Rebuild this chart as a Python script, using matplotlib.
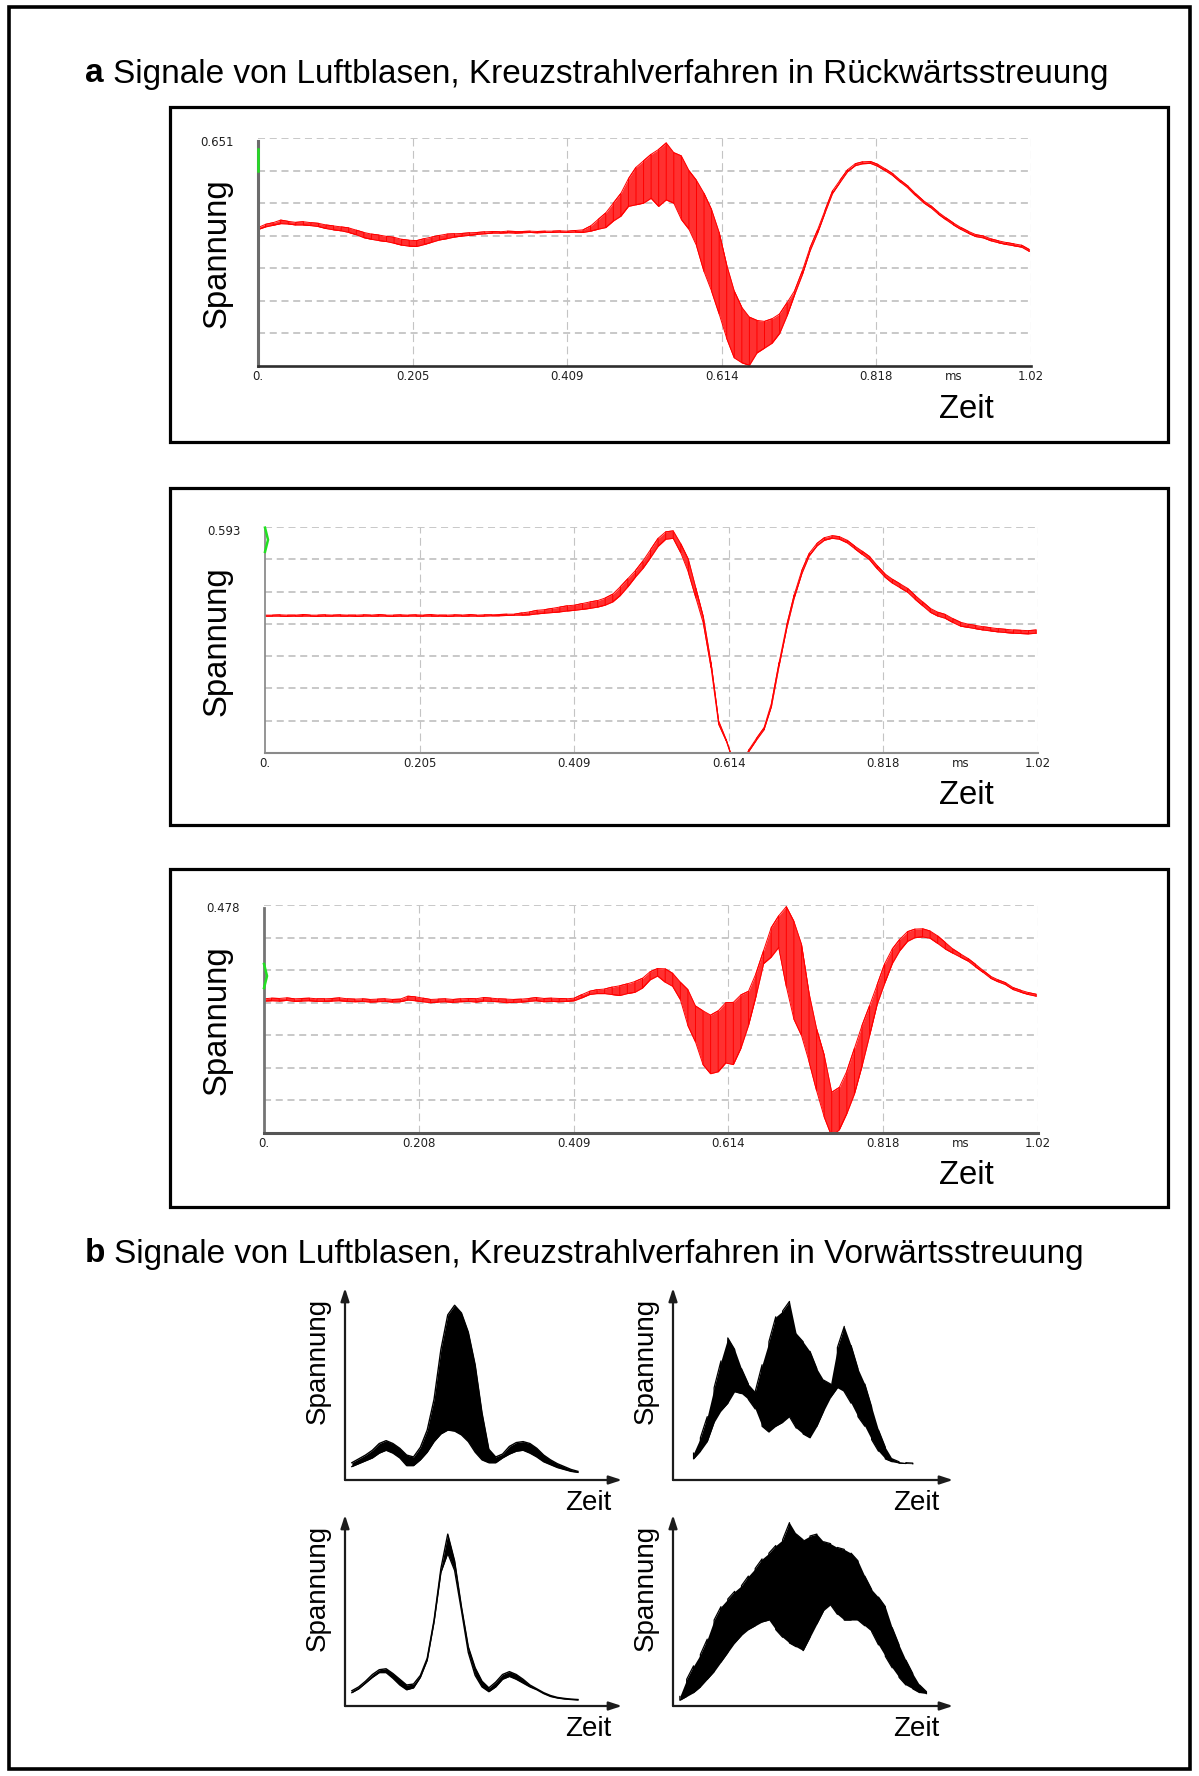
import numpy as np
import matplotlib
matplotlib.use("Agg")
import matplotlib.pyplot as plt
from matplotlib.patches import Rectangle

W, H, DPI = 1199, 1776, 100
plt.rcParams['font.family'] = ['Liberation Sans', 'DejaVu Sans']
nan = np.nan

# ---------------- part a: oscilloscope traces (screen divisions, 0..7) ----------------
t_ms = np.round(np.arange(103) * 0.01, 2)          # sample times 0.00 .. 1.02 ms
tick_ms = [0.0, 0.2045, 0.409, 0.6135, 0.818, 1.0225]
xlabels_1 = ["0.", "0.205", "0.409", "0.614", "0.818", "1.02"]
xlabels_2 = ["0.", "0.205", "0.409", "0.614", "0.818", "1.02"]
xlabels_3 = ["0.", "0.208", "0.409", "0.614", "0.818", "1.02"]
ytop_labels = ["0.651", "0.593", "0.478"]
unit_label = "ms"

# upper / lower extent of the trace at each sample time
p1_hi = [4.25, 4.35, 4.40, 4.48, 4.44, 4.41, 4.43, 4.40, 4.38, 4.33,
         4.30, 4.27, 4.24, 4.17, 4.10, 4.05, 4.02, 3.98, 3.95, 3.89,
         3.86, 3.85, 3.91, 3.96, 4.01, 4.05, 4.06, 4.07, 4.09, 4.10,
         4.12, 4.13, 4.12, 4.14, 4.13, 4.13, 4.14, 4.13, 4.14, 4.14,
         4.15, 4.14, 4.16, 4.18, 4.30, 4.50, 4.70, 5.00, 5.30, 5.75,
         6.10, 6.30, 6.50, 6.65, 6.85, 6.55, 6.45, 6.00, 5.70, 5.30,
         4.80, 4.10, 3.10, 2.30, 1.80, 1.50, 1.40, 1.37, 1.45, 1.60,
         1.95, 2.32, 2.92, 3.62, 4.17, 4.78, 5.38, 5.71, 6.03, 6.21,
         6.27, 6.28, 6.19, 6.05, 5.90, 5.70, 5.52, 5.29, 5.08, 4.92,
         4.72, 4.55, 4.39, 4.25, 4.13, 4.03, 3.99, 3.90, 3.84, 3.79,
         3.75, 3.71, 3.58]
p1_lo = [4.19, 4.27, 4.32, 4.37, 4.36, 4.33, 4.33, 4.31, 4.28, 4.22,
         4.18, 4.15, 4.10, 4.03, 3.94, 3.89, 3.85, 3.82, 3.77, 3.71,
         3.68, 3.67, 3.73, 3.80, 3.87, 3.91, 3.96, 3.99, 4.01, 4.04,
         4.06, 4.08, 4.08, 4.09, 4.08, 4.09, 4.10, 4.09, 4.10, 4.10,
         4.11, 4.10, 4.11, 4.10, 4.14, 4.20, 4.25, 4.45, 4.60, 4.90,
         4.95, 5.00, 5.15, 4.90, 5.10, 5.00, 4.50, 4.20, 3.70, 2.90,
         2.30, 1.60, 0.85, 0.25, 0.10, 0.02, 0.40, 0.55, 0.70, 1.00,
         1.55, 2.20, 2.80, 3.52, 4.07, 4.70, 5.30, 5.64, 5.97, 6.15,
         6.21, 6.22, 6.13, 5.99, 5.84, 5.64, 5.46, 5.23, 5.02, 4.86,
         4.66, 4.49, 4.33, 4.19, 4.07, 3.97, 3.93, 3.84, 3.78, 3.73,
         3.69, 3.65, 3.52]

p2_hi = [4.27, 4.27, 4.28, 4.27, 4.27, 4.29, 4.27, 4.27, 4.28, 4.27,
         4.28, 4.27, 4.27, 4.28, 4.27, 4.29, 4.27, 4.27, 4.28, 4.27,
         4.28, 4.27, 4.29, 4.27, 4.27, 4.28, 4.27, 4.29, 4.27, 4.28,
         4.28, 4.29, 4.30, 4.30, 4.34, 4.37, 4.42, 4.44, 4.48, 4.52,
         4.56, 4.58, 4.63, 4.68, 4.72, 4.80, 4.92, 5.15, 5.40, 5.65,
         5.95, 6.30, 6.65, 6.85, 6.88, 6.48, 6.00, 5.10, 4.20, 2.80,
         1.00, 0.42, -0.30, -0.50, 0.10, 0.45, 0.78, 1.55, 2.80, 3.95,
         4.90, 5.65, 6.19, 6.49, 6.67, 6.73, 6.70, 6.59, 6.41, 6.25,
         6.08, 5.80, 5.55, 5.38, 5.24, 5.10, 4.88, 4.68, 4.48, 4.36,
         4.29, 4.16, 4.05, 3.99, 3.95, 3.91, 3.88, 3.85, 3.83, 3.81,
         3.80, 3.79, 3.81]
p2_lo = [4.24, 4.24, 4.24, 4.23, 4.24, 4.24, 4.24, 4.23, 4.24, 4.24,
         4.24, 4.24, 4.23, 4.24, 4.24, 4.24, 4.24, 4.23, 4.24, 4.24,
         4.24, 4.24, 4.24, 4.24, 4.23, 4.24, 4.24, 4.24, 4.24, 4.24,
         4.25, 4.25, 4.26, 4.27, 4.27, 4.28, 4.31, 4.33, 4.35, 4.37,
         4.40, 4.42, 4.45, 4.48, 4.52, 4.58, 4.68, 4.88, 5.15, 5.45,
         5.72, 6.05, 6.40, 6.62, 6.65, 6.20, 5.60, 4.80, 4.00, 2.65,
         0.90, 0.38, -0.30, -0.50, 0.05, 0.40, 0.72, 1.45, 2.70, 3.85,
         4.80, 5.55, 6.11, 6.41, 6.59, 6.65, 6.62, 6.51, 6.33, 6.15,
         5.98, 5.70, 5.45, 5.26, 5.12, 4.98, 4.76, 4.56, 4.36, 4.24,
         4.17, 4.04, 3.93, 3.89, 3.85, 3.81, 3.78, 3.75, 3.73, 3.71,
         3.70, 3.69, 3.71]

p3_hi = [4.12, 4.14, 4.13, 4.15, 4.12, 4.13, 4.14, 4.12, 4.12, 4.13,
         4.15, 4.12, 4.11, 4.12, 4.10, 4.11, 4.12, 4.10, 4.11, 4.20,
         4.18, 4.14, 4.10, 4.11, 4.12, 4.10, 4.12, 4.13, 4.12, 4.16,
         4.14, 4.12, 4.11, 4.10, 4.11, 4.13, 4.16, 4.13, 4.14, 4.13,
         4.12, 4.14, 4.25, 4.35, 4.40, 4.42, 4.48, 4.52, 4.58, 4.65,
         4.75, 4.95, 5.05, 5.04, 4.90, 4.63, 4.40, 3.90, 3.75, 3.62,
         3.75, 4.00, 4.01, 4.24, 4.35, 4.90, 5.60, 6.30, 6.67, 6.95,
         6.50, 5.80, 4.30, 3.20, 2.40, 1.25, 1.40, 1.90, 2.60, 3.30,
         3.91, 4.55, 5.20, 5.65, 5.95, 6.18, 6.26, 6.27, 6.20, 6.05,
         5.85, 5.65, 5.50, 5.36, 5.18, 4.99, 4.81, 4.70, 4.61, 4.46,
         4.38, 4.31, 4.26]
p3_lo = [4.05, 4.06, 4.05, 4.07, 4.04, 4.05, 4.06, 4.04, 4.04, 4.05,
         4.06, 4.04, 4.03, 4.04, 4.02, 4.03, 4.04, 4.02, 4.03, 4.08,
         4.06, 4.03, 4.00, 4.02, 4.03, 4.01, 4.03, 4.04, 4.02, 4.05,
         4.04, 4.03, 4.00, 4.01, 4.02, 4.04, 4.06, 4.03, 4.04, 4.03,
         4.04, 4.06, 4.15, 4.25, 4.28, 4.28, 4.25, 4.22, 4.28, 4.32,
         4.45, 4.70, 4.82, 4.63, 4.50, 4.10, 3.30, 2.80, 2.10, 1.82,
         1.88, 2.15, 2.10, 2.60, 3.30, 4.20, 5.20, 5.40, 5.70, 4.50,
         3.50, 3.00, 2.20, 1.30, 0.50, -0.10, 0.10, 0.60, 1.20, 2.05,
         2.99, 3.95, 4.60, 5.20, 5.60, 5.88, 6.00, 6.02, 5.98, 5.82,
         5.65, 5.52, 5.40, 5.28, 5.10, 4.93, 4.75, 4.64, 4.55, 4.40,
         4.32, 4.25, 4.20]

# trigger marker (green) extent on the y axis, in divisions
marker_lo = [6.00, 6.23, 4.45]
marker_hi = [6.67, 6.98, 5.19]

# ---------------- part b: forward-scatter sketches (normalised units) ----------------
b_t = np.round(0.025 + np.arange(37) * 0.025, 3)
tl_hi = [0.09, 0.11, 0.13, 0.155, 0.19, 0.205, 0.19, 0.165, 0.13, 0.12, 0.17, 0.26,
         0.42, 0.68, 0.86, 0.91, 0.87, 0.77, 0.60, 0.35, 0.16, 0.12, 0.135, 0.175,
         0.195, 0.20, 0.19, 0.165, 0.13, 0.105, 0.085, 0.07, 0.055, 0.045, nan, nan, nan]
tl_lo = [0.07, 0.085, 0.10, 0.115, 0.14, 0.155, 0.14, 0.115, 0.075, 0.075, 0.105, 0.145,
         0.20, 0.24, 0.26, 0.255, 0.235, 0.20, 0.145, 0.105, 0.09, 0.09, 0.115, 0.135,
         0.15, 0.155, 0.14, 0.12, 0.095, 0.08, 0.065, 0.055, 0.045, 0.04, nan, nan, nan]
bl_hi = [0.08, 0.10, 0.13, 0.165, 0.19, 0.195, 0.17, 0.14, 0.11, 0.115, 0.16, 0.25,
         0.45, 0.72, 0.90, 0.76, 0.52, 0.31, 0.20, 0.13, 0.095, 0.125, 0.165, 0.18,
         0.165, 0.14, 0.11, 0.09, 0.07, 0.055, 0.045, 0.04, 0.036, 0.034, nan, nan, nan]
bl_lo = [0.07, 0.09, 0.12, 0.15, 0.175, 0.175, 0.145, 0.11, 0.085, 0.095, 0.15, 0.24,
         0.44, 0.70, 0.80, 0.71, 0.50, 0.28, 0.16, 0.10, 0.075, 0.10, 0.14, 0.155,
         0.14, 0.12, 0.10, 0.085, 0.065, 0.05, 0.042, 0.037, 0.034, 0.032, nan, nan, nan]
tr_hi = [nan, nan, 0.14, 0.22, 0.33, 0.48, 0.62, 0.74, 0.68, 0.58, 0.50, 0.46,
         0.60, 0.72, 0.85, 0.88, 0.93, 0.76, 0.72, 0.67, 0.58, 0.52, 0.50, 0.69,
         0.80, 0.70, 0.58, 0.50, 0.38, 0.26, 0.17, 0.11, 0.095, 0.09, 0.088, nan, nan]
tr_lo = [nan, nan, 0.11, 0.15, 0.20, 0.30, 0.36, 0.40, 0.46, 0.45, 0.42, 0.37,
         0.28, 0.25, 0.28, 0.30, 0.33, 0.27, 0.24, 0.22, 0.28, 0.36, 0.43, 0.48,
         0.46, 0.40, 0.33, 0.28, 0.21, 0.15, 0.11, 0.095, 0.088, 0.086, 0.085, nan, nan]
br_hi = [0.05, 0.14, 0.21, 0.27, 0.35, 0.45, 0.52, 0.56, 0.60, 0.63, 0.68, 0.72,
         0.77, 0.80, 0.84, 0.87, 0.96, 0.90, 0.87, 0.89, 0.90, 0.86, 0.85, 0.83,
         0.82, 0.80, 0.76, 0.68, 0.61, 0.57, 0.52, 0.41, 0.32, 0.24, 0.17, 0.11, 0.075]
br_lo = [0.03, 0.05, 0.07, 0.10, 0.14, 0.18, 0.23, 0.28, 0.33, 0.37, 0.40, 0.42,
         0.44, 0.45, 0.40, 0.36, 0.33, 0.31, 0.29, 0.36, 0.43, 0.50, 0.53, 0.48,
         0.45, 0.45, 0.45, 0.42, 0.39, 0.32, 0.26, 0.20, 0.15, 0.11, 0.09, 0.07, 0.065]

title_a = "Signale von Luftblasen, Kreuzstrahlverfahren in Rückwärtsstreuung"
title_b = "Signale von Luftblasen, Kreuzstrahlverfahren in Vorwärtsstreuung"
ylab, xlab = "Spannung", "Zeit"

# ---------------- drawing ----------------
fig = plt.figure(figsize=(W / DPI, H / DPI), dpi=DPI)
fig.patch.set_facecolor("white")


def fx(x):
    return x / W


def fy(y):
    return 1 - y / H


def add_ax(x0, y0, x1, y1):
    return fig.add_axes([fx(x0), fy(y1), (x1 - x0) / W, (y1 - y0) / H])


def frame(x0, y0, x1, y1, lw=2.3):
    fig.add_artist(Rectangle((fx(x0), fy(y1)), (x1 - x0) / W, (y1 - y0) / H,
                             transform=fig.transFigure, fill=False,
                             edgecolor="black", linewidth=lw))


def band_path(t, hi, lo):
    """trace that jumps between upper and lower extent at each sample time"""
    t = np.repeat(np.asarray(t, float), 2)
    hi = np.asarray(hi, float)
    lo = np.asarray(lo, float)
    even = np.arange(len(hi)) % 2 == 0
    y = np.empty(2 * len(hi))
    y[0::2] = np.where(even, hi, lo)
    y[1::2] = np.where(even, lo, hi)
    return t, y


def title(y, letter, text):
    r = fig.canvas.get_renderer()
    t1 = fig.text(fx(85), fy(y), letter, fontsize=24, fontweight="bold", va="center")
    bb = t1.get_window_extent(r)
    fig.text((bb.x1 + 9) / W, fy(y), text, fontsize=24, va="center")


frame(9, 7, 1190, 1769, lw=2.6)
title(74, "a", title_a)
title(1254, "b", title_b)

scopes = [
    dict(box=(170, 107, 1168, 442), ax=(258, 138, 1031, 366), hi=p1_hi, lo=p1_lo,
         xl=xlabels_1, lc="#6c6c6c", lw_l=2.2, bc="#2e2e2e", lw_b=1.9),
    dict(box=(170, 488, 1168, 825), ax=(265, 527, 1038, 753), hi=p2_hi, lo=p2_lo,
         xl=xlabels_2, lc="#8c8c8c", lw_l=1.3, bc="#8a8a8a", lw_b=1.5),
    dict(box=(170, 869, 1168, 1207), ax=(264, 905, 1038, 1133), hi=p3_hi, lo=p3_lo,
         xl=xlabels_3, lc="#747474", lw_l=2.0, bc="#555555", lw_b=2.2),
]

for i, s in enumerate(scopes):
    frame(*s["box"])
    x0, y0, x1, y1 = s["ax"]
    ax = add_ax(x0, y0, x1, y1)
    ax.set_xlim(0, tick_ms[-1])
    ax.set_ylim(0, 7)
    ax.patch.set_alpha(0)
    for k in range(1, 8):
        ax.axhline(k, color="#c4c4c4", lw=1.3, ls=(0, (3.9, 2.6)), zorder=1)
    for xt in tick_ms[1:]:
        ax.axvline(xt, color="#c4c4c4", lw=0.8, ls=(0, (7, 4)), zorder=1)
    ax.fill_between(t_ms, s["lo"], s["hi"], color="#ff3030", lw=0, zorder=2)
    tz, yz = band_path(t_ms, s["hi"], s["lo"])
    ax.plot(tz, yz, color="#ff0000", lw=0.7, zorder=3)
    ax.plot(t_ms, s["hi"], color="#ff0000", lw=0.7, zorder=3)
    ax.plot(t_ms, s["lo"], color="#ff0000", lw=0.7, zorder=3)
    for side in ("top", "right"):
        ax.spines[side].set_visible(False)
    ax.spines["left"].set_color(s["lc"])
    ax.spines["left"].set_linewidth(s["lw_l"])
    ax.spines["left"].set_bounds(0, 6.9)
    ax.spines["bottom"].set_color(s["bc"])
    ax.spines["bottom"].set_linewidth(s["lw_b"])
    ax.spines["left"].set_zorder(4)
    ax.spines["bottom"].set_zorder(4)
    ax.set_yticks([])
    ax.set_xticks(tick_ms)
    ax.set_xticklabels(s["xl"])
    ax.tick_params(axis="x", length=0, pad=3.0, labelsize=8.5, labelcolor="#202020")
    for lab in ax.get_xticklabels():
        lab.set_family(["DejaVu Sans"])
    ax.annotate(unit_label, xy=(0.92, 0), xycoords="data", xytext=(0, -4),
                textcoords="offset pixels", ha="center", va="top", fontsize=8.5,
                color="#202020", family=["DejaVu Sans"], annotation_clip=False)
    ax.annotate(ytop_labels[i], xy=(0, 7), xycoords="data", xytext=(-24, -4),
                textcoords="offset pixels", ha="right", va="center", fontsize=8.5,
                color="#202020", family=["DejaVu Sans"], annotation_clip=False)
    mid = (marker_lo[i] + marker_hi[i]) / 2
    bulge = 0.0 if i == 0 else 0.004
    ax.plot([0, bulge, 0], [marker_lo[i], mid, marker_hi[i]], color="#22e022",
            lw=1.8, clip_on=False, zorder=5)
    # axis titles
    fig.text(fx(217), fy((y0 + y1) / 2 + 1), ylab, rotation=90, fontsize=23.7,
             ha="center", va="center")
    fig.text(fx(966), fy(y1 + 43), xlab, fontsize=23.7, ha="center", va="center")

B_UNIT = 274.0   # pixels per normalised time unit in part b
bpanels = [
    dict(ax=(345, 1288, 622, 1480), hi=tl_hi, lo=tl_lo, noisy=False),
    dict(ax=(673, 1288, 953, 1480), hi=tr_hi, lo=tr_lo, noisy=True),
    dict(ax=(345, 1515, 622, 1706), hi=bl_hi, lo=bl_lo, noisy=False),
    dict(ax=(673, 1515, 953, 1706), hi=br_hi, lo=br_lo, noisy=True),
]
for s in bpanels:
    x0, y0, x1, y1 = s["ax"]
    ax = add_ax(x0, y0, x1, y1)
    ax.set_xlim(0, (x1 - x0) / B_UNIT)
    ax.set_ylim(0, 1)
    ax.axis("off")
    ax.fill_between(b_t, s["lo"], s["hi"], color="black", lw=0)
    if s["noisy"]:
        tz, yz = band_path(b_t, s["hi"], s["lo"])
        ax.plot(tz, yz, color="black", lw=0.9)
    else:
        ax.plot(b_t, s["hi"], color="black", lw=1.0)
        ax.plot(b_t, s["lo"], color="black", lw=1.0)
    arrow = dict(arrowstyle="-|>,head_length=0.55,head_width=0.18", color="#1c1c1c",
                 lw=1.6, shrinkA=0, shrinkB=0, mutation_scale=14)
    ax.annotate("", xy=(1, 0), xytext=(0, 0), xycoords="axes fraction", arrowprops=arrow)
    ax.annotate("", xy=(0, 1), xytext=(0, 0), xycoords="axes fraction", arrowprops=arrow)
    fig.text(fx(x0 - 27), fy((y0 + y1) / 2 - 23), ylab, rotation=90, fontsize=20,
             ha="center", va="center")
    fig.text(fx(x0 + 243), fy(y1 + 23), xlab, fontsize=20, ha="center", va="center")

fig.savefig("out.png", dpi=DPI, facecolor="white")
